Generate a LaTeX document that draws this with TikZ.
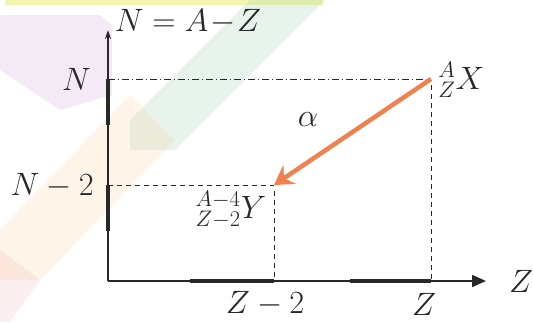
\documentclass[tikz,border=0pt]{standalone}
\usetikzlibrary{arrows.meta}
\definecolor{arrowc}{RGB}{240,130,82}
\definecolor{wmyellow}{RGB}{235,240,120}
\definecolor{wmpurple}{RGB}{200,160,210}
\definecolor{wmgreen}{RGB}{150,200,170}
\definecolor{wmorange}{RGB}{250,205,150}
\definecolor{wmpink}{RGB}{240,180,180}
\definecolor{inkc}{RGB}{40,40,40}
\tikzset{
  lbl/.style={inner sep=0pt, font=\fontsize{24}{28}\selectfont, scale=1.3, text=inkc},
  axisline/.style={draw=inkc, line width=1.6pt},
  thickseg/.style={draw=inkc, line width=4.5pt},
  guide/.style={draw=inkc, line width=1pt, dash pattern=on 5pt off 4pt},
  guidedot/.style={draw=inkc, line width=1pt, dash pattern=on 7pt off 3pt on 1pt off 3pt},
  alphaarrow/.style={draw=arrowc, line width=4.5pt, -{Stealth[length=19pt,width=23pt,inset=7pt]}},
  wm/.style={opacity=0.22}
}
\begin{document}
\begin{tikzpicture}[x=1pt,y=-1pt]
\useasboundingbox (0,0) rectangle (533,322);
% faint watermark
\fill[wmyellow,opacity=0.6] (5,0) rectangle (323,5);
\fill[wmpurple,wm] (0,15) -- (100,15) -- (112,25) -- (112,95) -- (60,110) -- (0,70) -- cycle;
\fill[wmgreen,wm] (250,0) -- (325,0) -- (175,150) -- (130,150) -- (130,120) -- cycle;
\fill[wmorange,wm] (130,95) -- (175,140) -- (40,280) -- (0,280) -- (0,230) -- cycle;
\fill[wmpink,wm] (0,250) -- (40,280) -- (10,322) -- (0,322) -- cycle;

% key points
\coordinate (O) at (108,281);
\coordinate (ytop) at (108,30);
\coordinate (xend) at (486,281);
\coordinate (nN) at (108,79);
\coordinate (nN2) at (108,185);
\coordinate (zZ2) at (274,281);
\coordinate (zZ) at (431,281);
\coordinate (X) at (431,79);
\coordinate (Y) at (274,185);

% guides
\draw[guidedot] (nN) -- (X);
\draw[guide] (nN2) -- (Y);
\draw[guide] (Y) ++(0,6) coordinate (Yb) -- (zZ2);
\draw[guide] (X) ++(0,6) coordinate (Xb) -- (zZ);

% axes
\draw[axisline, -{Stealth[length=9pt,width=6pt]}] (O) -- (ytop);
\draw[axisline, -{Triangle[length=14pt,width=12pt]}] (O) -- (xend);

% thick segments
\draw[thickseg] (108,79) -- (108,125);
\draw[thickseg] (108,185) -- (108,231);
\draw[thickseg] (190,281) -- (zZ2);
\draw[thickseg] (350,281) -- (zZ);

% alpha decay arrow
\draw[alphaarrow] (X) -- (Y);

% labels
\node[lbl] (title) at (188,22) {$N = A\!-\!Z$};
\node[lbl, anchor=east] (labN) at (91,79) {$N$};
\node[lbl, anchor=east] (labN2) at (94,186) {$N-2$};
\node[lbl] (labZ2) at (265,304) {$Z-2$};
\node[lbl] (labZ) at (424,304) {$Z$};
\node[lbl] (labZax) at (521,281) {$Z$};
\node[lbl] (alpha) at (308,120) {$\alpha$};
\node[lbl, anchor=west] (labX) at (438,80) {${}^{A}_{Z}X$};
\node[lbl] (labY) at (231,210) {${}^{A-4}_{Z-2}Y$};
\end{tikzpicture}
\end{document}
